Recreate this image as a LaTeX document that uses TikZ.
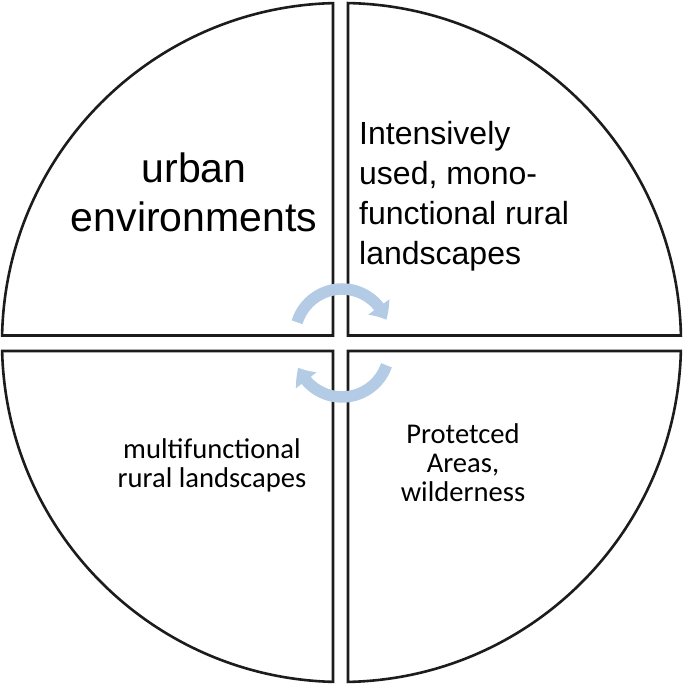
\documentclass[tikz,border=0pt]{standalone}
\usepackage{fontspec}
\setmainfont{Liberation Sans}
\newfontfamily\calib{Carlito}
\usetikzlibrary{arrows.meta,bending}
\definecolor{quadline}{RGB}{28,28,28}
\definecolor{cyclearrow}{RGB}{180,203,230}
\begin{document}
\begin{tikzpicture}[x=1pt,y=1pt,
  quad/.style={draw=quadline,line width=2.6pt,line join=miter,fill=white},
  cyc/.style={draw=cyclearrow,line width=11.5pt,-{Triangle[length=15pt,width=25pt,bend]}},
  bigtxt/.style={inner sep=0pt,anchor=base,font=\fontsize{41}{48}\selectfont},
  trtxt/.style={inner sep=0pt,anchor=base west,font=\fontsize{32}{40}\selectfont},
  lowtxt/.style={inner sep=0pt,anchor=base,font=\calib\fontsize{28.6}{29}\selectfont}]
\useasboundingbox (0,0) rectangle (685,685);
\coordinate (C) at (341.5,342.5);
\pgfmathsetmacro{\R}{339.5}
\pgfmathsetmacro{\aTLs}{acos((333-341.5)/339.5)}
\pgfmathsetmacro{\aTLe}{180-asin((349.5-342.5)/339.5)}
\pgfmathsetmacro{\aTRs}{asin((349.5-342.5)/339.5)}
\pgfmathsetmacro{\aTRe}{acos((348-341.5)/339.5)}
\pgfmathsetmacro{\aBRs}{-acos((348-341.5)/339.5)}
\pgfmathsetmacro{\aBRe}{-asin((342.5-334)/339.5)}
\pgfmathsetmacro{\aBLs}{180+asin((342.5-334)/339.5)}
\pgfmathsetmacro{\aBLe}{360-acos((333-341.5)/339.5)}
% quadrants
\draw[quad] (333,349.5) -- ([shift={(\aTLs:\R)}]C) arc[start angle=\aTLs,end angle=\aTLe,radius=\R] -- cycle;
\draw[quad] (348,349.5) -- ([shift={(\aTRs:\R)}]C) arc[start angle=\aTRs,end angle=\aTRe,radius=\R] -- cycle;
\draw[quad] (348,334) -- ([shift={(\aBRs:\R)}]C) arc[start angle=\aBRs,end angle=\aBRe,radius=\R] -- cycle;
\draw[quad] (333,334) -- ([shift={(\aBLs:\R)}]C) arc[start angle=\aBLs,end angle=\aBLe,radius=\R] -- cycle;
% cycle arrows
\coordinate (TA) at (342,349);
\coordinate (BA) at (342,335);
\draw[cyc] ([shift={(163:47)}]TA) arc[start angle=163,end angle=20,radius=47];
\draw[cyc] ([shift={(-19:47)}]BA) arc[start angle=-19,end angle=-158,radius=47];
% texts
\node[bigtxt] (u1) at (194,502) {urban};
\node[bigtxt] (u2) at (194,453) {environments};
\node[trtxt] (i1) at (359,540) {Intensively};
\node[trtxt] (i2) at (359,500) {used, mono-};
\node[trtxt] (i3) at (359,460) {functional rural};
\node[trtxt] (i4) at (359,420) {landscapes};
\node[lowtxt] (m1) at (212,226) {multifunctional};
\node[lowtxt] (m2) at (212,197) {rural landscapes};
\node[lowtxt] (p1) at (463,241) {Protetced};
\node[lowtxt] (p2) at (463,212) {Areas,};
\node[lowtxt] (p3) at (463,183) {wilderness};
\end{tikzpicture}
\end{document}
